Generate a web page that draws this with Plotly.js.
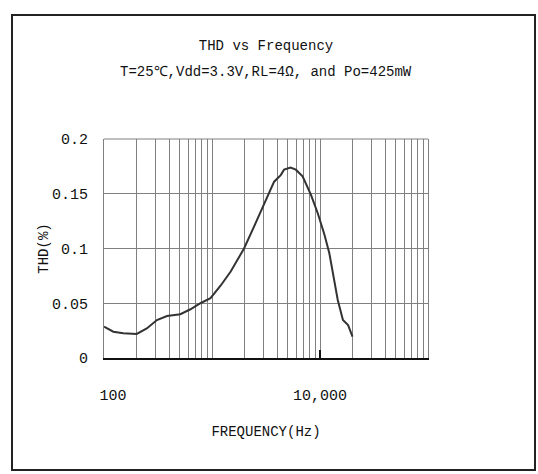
<!DOCTYPE html>
<html>
<head>
<meta charset="utf-8">
<script src="https://cdn.plot.ly/plotly-3.0.1.min.js"></script>
<style>
html,body{margin:0;padding:0;background:#fff;}
#chart{width:538px;height:474px;}
</style>
</head>
<body>
<div id="chart"></div>
<script>
// Data
const freqHz = [100,122,151,201,249,309,383,509,632,781,968,1200,1490,1980,2450,3040,3760,4330,4650,5340,5970,6900,8250,9550,11000,12200,13500,14600,16300,18200,20000];
const thdPct = [0.0286,0.024,0.0226,0.022,0.027,0.0347,0.0384,0.040,0.0445,0.050,0.0546,0.066,0.079,0.100,0.120,0.1415,0.161,0.167,0.172,0.174,0.172,0.166,0.149,0.132,0.1125,0.0957,0.0713,0.053,0.0347,0.030,0.0195];

const xTickVals = [100, 10000];
const xTickText = ['\u00a0\u00a0100', '10,000'];
const xGridVals = [100,200,300,400,500,600,700,800,900,
                   1000,2000,3000,4000,5000,6000,7000,8000,9000,
                   10000,20000,30000,40000,50000,60000,70000,80000,90000,100000];
const yTickVals = [0, 0.05, 0.1, 0.15, 0.2];
const yTickText = ['0', '0.05', '0.1', '0.15', '0.2'];

const titleText = 'THD vs Frequency';
const subtitleText = 'T=25℃,Vdd=3.3V,RL=4Ω, and Po=425mW';
const xTitle = 'FREQUENCY(Hz)';
const yTitle = 'THD(%)';

const FONT = 'Liberation Mono, DejaVu Sans Mono, monospace';
const ML = 104, MR = 110, MT = 139, MB = 116, W = 538, H = 474;
const PW = W - ML - MR, PH = H - MT - MB;
const px = v => (v - ML) / PW;
const py = v => (H - MB - v) / PH;

const trace = {
  x: freqHz, y: thdPct, type: 'scatter', mode: 'lines',
  line: {color: '#333333', width: 2},
  hoverinfo: 'skip'
};

const layout = {
  width: W, height: H,
  margin: {l: ML, r: MR, t: MT, b: MB, pad: 0},
  paper_bgcolor: '#ffffff', plot_bgcolor: '#ffffff',
  showlegend: false,
  font: {family: FONT, color: '#111111', size: 14},
  title: {
    text: titleText, x: 0.5, xref: 'paper', xanchor: 'center',
    y: 1 - 45 / H, yref: 'container', yanchor: 'middle',
    font: {family: FONT, size: 14, color: '#111111'}
  },
  xaxis: {
    type: 'log', range: [2, 5],
    tickmode: 'array', tickvals: xTickVals, ticktext: xTickText,
    ticks: 'inside', ticklen: 8, tickwidth: 2, tickcolor: '#111111',
    ticklabelstandoff: 22,
    tickfont: {family: FONT, size: 15, color: '#111111'},
    showgrid: true, gridcolor: '#808080', gridwidth: 1,
    minor: {tickmode: 'array', tickvals: xGridVals, showgrid: true, gridcolor: '#808080', gridwidth: 1, ticks: ''},
    showline: true, linecolor: '#111111', linewidth: 2, mirror: false,
    zeroline: false,
    title: {text: xTitle, standoff: 22, font: {family: FONT, size: 14, color: '#111111'}}
  },
  yaxis: {
    range: [0, 0.2],
    tickmode: 'array', tickvals: yTickVals, ticktext: yTickText,
    ticks: '', ticklabelstandoff: 12,
    tickfont: {family: FONT, size: 15, color: '#111111'},
    showgrid: true, gridcolor: '#808080', gridwidth: 1,
    showline: true, linecolor: '#808080', linewidth: 1, mirror: true,
    zeroline: false,
    title: {text: yTitle, standoff: 0, font: {family: FONT, size: 14, color: '#111111'}}
  },
  annotations: [{
    text: subtitleText, xref: 'paper', yref: 'paper',
    x: 0.5, y: py(72), xanchor: 'center', yanchor: 'middle',
    showarrow: false, font: {family: FONT, size: 14, color: '#111111'}
  }],
  shapes: [
    {type: 'rect', xref: 'paper', yref: 'paper', x0: px(12), x1: px(535), y0: py(470), y1: py(15),
     line: {color: '#222222', width: 2}, fillcolor: 'rgba(0,0,0,0)', layer: 'above'},
    {type: 'line', xref: 'paper', yref: 'paper', x0: 0, x1: 1, y0: 1, y1: 1,
     line: {color: '#808080', width: 1}}
  ]
};

Plotly.newPlot('chart', [trace], layout, {displayModeBar: false, staticPlot: true});
</script>
</body>
</html>
